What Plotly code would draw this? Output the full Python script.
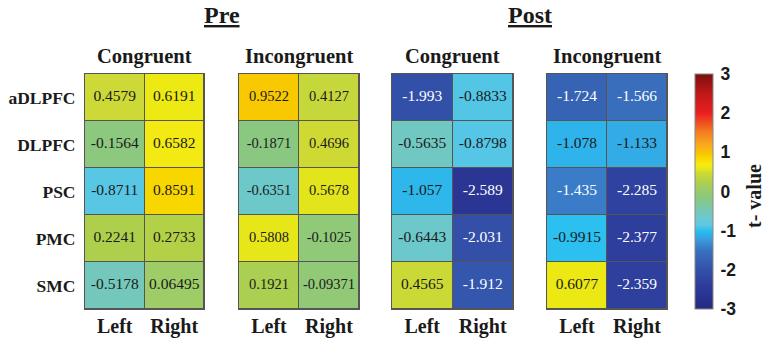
import plotly.graph_objects as go

regions = ["aDLPFC", "DLPFC", "PSC", "PMC", "SMC"]
sides = ["Left", "Right"]
pre_congruent = [[0.4579, 0.6191], [-0.1564, 0.6582], [-0.8711, 0.8591], [0.2241, 0.2733], [-0.5178, 0.06495]]
pre_incongruent = [[0.9522, 0.4127], [-0.1871, 0.4696], [-0.6351, 0.5678], [0.5808, -0.1025], [0.1921, -0.09371]]
post_congruent = [[-1.993, -0.8833], [-0.5635, -0.8798], [-1.057, -2.589], [-0.6443, -2.031], [0.4565, -1.912]]
post_incongruent = [[-1.724, -1.566], [-1.078, -1.133], [-1.435, -2.285], [-0.9915, -2.377], [0.6077, -2.359]]
panel_titles = ["Congruent", "Incongruent", "Congruent", "Incongruent"]
group_titles = ["Pre", "Post"]
cbar_ticks = [-3, -2, -1, 0, 1, 2, 3]
cbar_title = "t- value"

W, H = 767, 342
SERIF = "Liberation Serif"
SANS = "Liberation Sans"
TXT = "#1a1a1a"

colorscale_pts = [
    (-3.0, "#262a80"), (-2.5, "#2c3898"), (-2.0, "#3350a8"), (-1.5, "#3a72c0"),
    (-1.2, "#38a0e0"), (-1.0, "#28c0f0"), (-0.85, "#60c8e2"), (-0.55, "#72c8c0"),
    (-0.15, "#8cc87c"), (0.0, "#98ca70"), (0.25, "#b0d048"), (0.45, "#cad838"),
    (0.6, "#eae814"), (0.7, "#f8ec10"), (0.85, "#f8d800"), (0.95, "#f8c800"),
    (1.2, "#f8a820"), (1.5, "#f48020"), (2.0, "#e82020"), (2.5, "#c01818"), (3.0, "#7a1010"),
]
colorscale = [[(v + 3) / 6, c] for v, c in colorscale_pts]

panels = [pre_congruent, pre_incongruent, post_congruent, post_incongruent]
dom_px = [(85, 204), (239, 359), (392, 513), (547, 667)]
text_sizes = [15.5, 14.5, 15.5, 15.5]
y_top, y_bot = 74, 309

fig = go.Figure()
for i, (z, (x0, x1)) in enumerate(zip(panels, dom_px)):
    n = "" if i == 0 else str(i + 1)
    fig.add_trace(go.Heatmap(
        z=z, x=sides, y=regions, coloraxis="coloraxis",
        xgap=1, ygap=1, xaxis="x" + n, yaxis="y" + n, hoverinfo="skip",
    ))
    xs, ys, ts, cs = [], [], [], []
    for r, row in zip(regions, z):
        for s, v in zip(sides, row):
            xs.append(s); ys.append(r); ts.append(f"{v:.4g}")
            cs.append("#ffffff" if v < -1.3 else TXT)
    fig.add_trace(go.Scatter(
        x=xs, y=ys, text=ts, mode="text",
        textfont=dict(family=SERIF, size=text_sizes[i], color=cs),
        xaxis="x" + n, yaxis="y" + n, hoverinfo="skip", showlegend=False,
    ))
    fig.layout["xaxis" + n] = dict(
        domain=[x0 / W, x1 / W], anchor="y" + n, categoryorder="array", categoryarray=sides,
        showgrid=False, zeroline=False, showline=True, mirror=True, linecolor="#555555", linewidth=1,
        ticks="", tickfont=dict(family=SERIF, size=20, color=TXT), ticklabelstandoff=-1,
        tickprefix="<b>", ticksuffix="</b>",
    )
    fig.layout["yaxis" + n] = dict(
        domain=[1 - y_bot / H, 1 - y_top / H], anchor="x" + n, categoryorder="array",
        categoryarray=regions, autorange="reversed",
        showgrid=False, zeroline=False, showline=True, mirror=True, linecolor="#555555", linewidth=1,
        ticks="", showticklabels=(i == 0), tickfont=dict(family=SERIF, size=17.5, color=TXT),
        ticklabelstandoff=5, tickprefix="<b>", ticksuffix="</b>",
    )
    fig.add_annotation(
        text=f"<b>{panel_titles[i]}</b>", x=(x0 + x1) / 2 / W, y=1 - 57 / H,
        xref="paper", yref="paper", showarrow=False, xanchor="center", yanchor="middle",
        font=dict(family=SERIF, size=20.5, color=TXT),
    )

for g, (a, b) in zip(group_titles, [(0, 1), (2, 3)]):
    cx = (dom_px[a][0] + dom_px[b][1]) / 2 / W
    fig.add_annotation(
        text=f"<b><u>{g}</u></b>", x=cx, y=1 - 15 / H, xref="paper", yref="paper",
        showarrow=False, xanchor="center", yanchor="middle",
        font=dict(family=SERIF, size=24, color=TXT),
    )

fig.add_annotation(
    text=f"<b>{cbar_title}</b>", x=754 / W, y=1 - 196 / H, xref="paper", yref="paper",
    showarrow=False, xanchor="center", yanchor="middle", textangle=-90,
    font=dict(family=SERIF, size=20, color=TXT),
)

fig.update_layout(
    width=W, height=H, margin=dict(l=0, r=0, t=0, b=0),
    paper_bgcolor="white", plot_bgcolor="#555555", showlegend=False,
    coloraxis=dict(
        cmin=-3, cmax=3, colorscale=colorscale,
        colorbar=dict(
            x=695 / W, xanchor="left", xpad=0, ypad=0, thickness=18, thicknessmode="pixels",
            len=(y_bot - y_top) / H, lenmode="fraction", y=1 - (y_top + y_bot) / 2 / H, yanchor="middle",
            outlinewidth=1, outlinecolor="#888888",
            tickvals=cbar_ticks, ticktext=[f"<b>{t}</b>" for t in cbar_ticks],
            ticks="outside", ticklen=4, tickcolor="rgba(0,0,0,0)",
            tickfont=dict(family=SANS, size=17.5, color=TXT),
        ),
    ),
)

fig.write_html("out.html")
